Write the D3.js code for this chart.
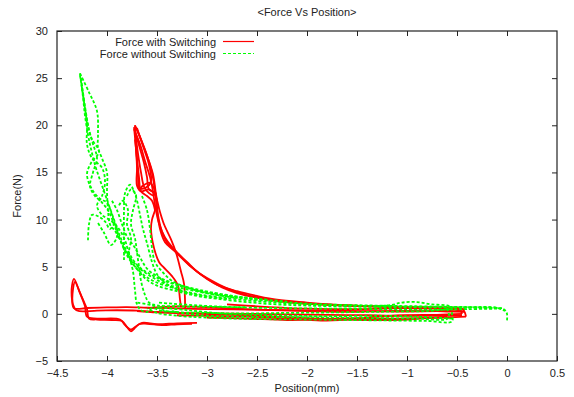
<!DOCTYPE html>
<html>
<head>
<meta charset="utf-8">
<script src="https://cdn.jsdelivr.net/npm/d3@7"></script>
<style>
body { margin: 0; background: #fff; }
text { font-family: "Liberation Sans", Arial, sans-serif; fill: #222; }
</style>
</head>
<body>
<svg id="graph"></svg>
<script>
// tick values
var xTicks = [-4.5, -4, -3.5, -3, -2.5, -2, -1.5, -1, -0.5, 0, 0.5];
var yTicks = [-5, 0, 5, 10, 15, 20, 25, 30];

// Force with Switching (red), traces
var redSpikeA = [[-3.72,20.0],[-3.66,18.5],[-3.60,16.8],[-3.55,15.0],[-3.52,13.0],[-3.50,11.0],[-3.47,9.0],[-3.42,7.6],[-3.33,6.7],[-3.25,5.9],[-3.15,4.9],[-3.0,3.7],[-2.85,2.8],[-2.7,2.2],[-2.5,1.7],[-2.3,1.35],[-2.0,1.05],[-1.7,0.9],[-1.4,0.8],[-1.0,0.72],[-0.7,0.66],[-0.5,0.6],[-0.44,0.45],[-0.42,0.1],[-0.41,-0.3]];
var redSpikeB = [[-3.73,19.6],[-3.67,18.0],[-3.62,16.2],[-3.57,14.5],[-3.54,13.0],[-3.52,11.5],[-3.48,9.6],[-3.42,8.1],[-3.35,7.1],[-3.28,6.3],[-3.18,5.2],[-3.05,4.1],[-2.9,3.1],[-2.7,2.4],[-2.5,1.9],[-2.3,1.5],[-2.0,1.2],[-1.7,0.95],[-1.4,0.82],[-1.0,0.72],[-0.6,0.62],[-0.47,0.5],[-0.45,0.0]];
var redSpikeC = [[-3.71,19.8],[-3.65,18.2],[-3.59,16.5],[-3.54,14.8],[-3.51,12.6],[-3.49,10.5],[-3.45,8.7],[-3.39,7.4],[-3.30,6.5],[-3.2,5.5],[-3.1,4.5],[-2.95,3.5],[-2.8,2.7],[-2.6,2.0],[-2.4,1.6],[-2.1,1.2],[-1.8,1.0],[-1.5,0.85],[-1.2,0.75],[-0.9,0.7],[-0.6,0.65],[-0.45,0.55],[-0.43,0.2]];
var redLeafA = [[-3.72,19.5],[-3.69,17.0],[-3.66,15.0],[-3.63,13.5],[-3.58,12.8],[-3.53,12.5]];
var redLeafB = [[-3.71,19.0],[-3.67,17.5],[-3.63,16.0],[-3.60,14.5],[-3.58,13.2],[-3.52,12.9]];
var redLeafC = [[-3.72,18.5],[-3.70,16.5],[-3.68,14.5],[-3.66,13.0],[-3.60,12.5],[-3.55,12.0],[-3.52,11.0]];
var redLeafD = [[-3.70,19.7],[-3.64,17.8],[-3.58,15.8],[-3.56,14.0],[-3.61,13.4],[-3.68,13.2]];
var redSpikeEdge = [[-3.72,20.0],[-3.71,18.0],[-3.70,16.0],[-3.69,14.5],[-3.68,13.2],[-3.64,13.6],[-3.57,13.9],[-3.53,13.3],[-3.50,12.0],[-3.52,11.0],[-3.55,10.0],[-3.56,9.0],[-3.53,7.0],[-3.48,5.5],[-3.44,5.0],[-3.35,4.0],[-3.29,3.0],[-3.27,1.5],[-3.26,0.7]];
var redSpikeEdge2 = [[-3.73,19.8],[-3.71,17.5],[-3.70,15.5],[-3.70,13.6],[-3.66,13.0],[-3.58,13.2],[-3.52,12.6],[-3.47,10.8],[-3.43,9.5],[-3.40,8.8],[-3.36,7.9],[-3.31,6.5],[-3.26,4.5],[-3.23,3.2],[-3.22,1.5],[-3.22,0.6]];
var redLeftA = [[-3.15,-1.05],[-3.3,-1.1],[-3.45,-1.2],[-3.6,-1.05],[-3.68,-1.1],[-3.73,-1.6],[-3.76,-1.85],[-3.8,-1.4],[-3.85,-0.75],[-3.95,-0.65],[-4.1,-0.6],[-4.18,-0.5],[-4.2,0.5],[-4.24,1.5],[-4.28,2.5],[-4.33,3.7],[-4.35,3.0],[-4.35,1.5],[-4.33,0.6],[-4.2,0.62],[-4.0,0.68],[-3.8,0.72],[-3.6,0.65],[-3.4,0.6],[-3.2,0.55],[-3.0,0.5],[-2.6,0.45],[-2.2,0.4],[-1.8,0.35],[-1.4,0.3],[-1.0,0.25],[-0.7,0.3],[-0.5,0.4],[-0.45,0.2]];
var redLeftB = [[-3.1,-0.95],[-3.3,-1.0],[-3.5,-1.1],[-3.65,-0.95],[-3.72,-1.4],[-3.76,-1.65],[-3.82,-1.2],[-3.87,-0.6],[-4.1,-0.5],[-4.2,-0.3],[-4.22,0.8],[-4.27,2.2],[-4.32,3.4],[-4.34,2.6],[-4.34,1.0],[-4.3,0.35],[-4.1,0.35],[-3.9,0.38],[-3.7,0.35],[-3.5,0.2],[-3.3,0.1],[-3.0,0.05],[-2.6,0.0],[-2.2,-0.05],[-1.8,-0.1],[-1.4,-0.15],[-1.0,-0.2],[-0.6,-0.2],[-0.45,-0.15]];
var redBottomA = [[-0.41,-0.3],[-0.6,-0.4],[-0.9,-0.45],[-1.2,-0.5],[-1.5,-0.45],[-1.8,-0.5],[-2.0,-0.45],[-2.2,-0.35],[-2.3,-0.3],[-2.6,-0.15],[-2.9,-0.05],[-3.2,0.05],[-3.5,0.15],[-3.7,0.3]];
var redBottomB = [[-0.45,0.0],[-0.7,-0.1],[-1.0,-0.15],[-1.3,-0.3],[-1.6,-0.6],[-1.9,-0.7],[-2.1,-0.55],[-2.3,-0.45],[-2.6,-0.3],[-3.0,-0.2],[-3.3,-0.15]];
var redBottomC = [[-0.43,0.2],[-0.6,0.25],[-0.9,0.35],[-1.2,0.3],[-1.6,0.2],[-2.0,0.3],[-2.5,0.45],[-3.0,0.7],[-3.3,0.8],[-3.6,0.6]];
var redBottomD = [[-0.42,0.5],[-0.7,0.55],[-1.0,0.6],[-1.5,0.5],[-2.0,0.55],[-2.5,0.8],[-2.8,1.0]];
var redBottomE = [[-0.6,-0.3],[-1.0,-0.6],[-1.4,-0.65],[-1.8,-0.55],[-2.2,-0.65],[-2.6,-0.5],[-3.0,-0.4]];

// Force without Switching (green)
var greenSpikeA = [[-4.27,25.5],[-4.24,23.0],[-4.22,21.0],[-4.19,19.0],[-4.16,17.5],[-4.12,15.8],[-4.08,14.5],[-4.03,13.0],[-3.98,11.5],[-3.93,10.0],[-3.88,8.5],[-3.82,7.0],[-3.75,5.5],[-3.68,4.5],[-3.6,3.6],[-3.5,3.0],[-3.3,2.4],[-3.1,1.9],[-2.9,1.6],[-2.6,1.25],[-2.3,1.0],[-2.0,0.88],[-1.6,0.78],[-1.2,0.72],[-0.8,0.7],[-0.4,0.66],[-0.1,0.62],[-0.02,0.4],[0.0,0.0],[0.0,-0.7]];
var greenSpikeB = [[-4.26,25.0],[-4.22,22.0],[-4.18,19.5],[-4.14,18.0],[-4.1,16.5],[-4.14,15.0],[-4.17,13.5],[-4.12,12.5],[-4.05,11.8],[-3.98,10.8],[-3.92,9.2],[-3.86,7.6],[-3.8,6.2],[-3.72,5.0],[-3.63,4.1],[-3.52,3.4],[-3.35,2.8],[-3.15,2.2],[-2.9,1.8],[-2.6,1.45],[-2.3,1.2],[-2.0,1.0],[-1.6,0.88],[-1.2,0.8],[-0.8,0.75],[-0.45,0.7],[-0.1,0.65],[-0.02,0.3]];
var greenSpikeC = [[-4.25,24.0],[-4.2,20.5],[-4.15,18.5],[-4.08,17.2],[-4.16,16.0],[-4.2,14.8],[-4.15,13.2],[-4.07,12.2],[-4.0,11.8],[-3.95,10.5],[-3.9,8.8],[-3.84,7.2],[-3.76,5.8],[-3.66,4.7],[-3.55,3.9],[-3.42,3.2],[-3.2,2.6],[-2.95,2.1],[-2.7,1.7],[-2.4,1.4],[-2.1,1.15],[-1.8,1.0],[-1.4,0.9],[-1.0,0.82],[-0.6,0.75],[-0.3,0.7],[-0.05,0.6]];
var greenSpikeD = [[-4.27,25.3],[-4.23,22.5],[-4.2,20.0],[-4.2,18.0],[-4.15,16.5],[-4.05,15.5],[-4.02,14.0],[-4.05,12.5],[-4.1,11.5],[-4.05,10.5],[-3.95,9.8],[-3.88,9.0],[-3.82,7.8],[-3.78,6.5],[-3.7,5.2],[-3.6,4.4],[-3.45,3.6],[-3.25,2.9],[-3.0,2.3],[-2.7,1.8],[-2.4,1.5]];
var greenDashOuter = [[-4.27,25.5],[-4.18,23.5],[-4.1,21.5],[-4.09,19.0],[-4.09,17.6],[-4.05,16.5],[-4.0,15.0],[-4.0,13.0],[-3.99,11.0],[-3.97,9.5],[-3.92,8.8],[-3.88,8.0]];
var greenLoopLeft = [[-4.19,7.8],[-4.18,9.5],[-4.15,10.5],[-4.08,10.3],[-4.02,9.8],[-3.97,9.0],[-3.92,9.6],[-3.9,8.2],[-3.96,7.3],[-4.03,8.6],[-4.1,9.8]];
var greenMidA = [[-3.95,12.0],[-3.9,11.0],[-3.85,9.5],[-3.8,8.2],[-3.72,7.0],[-3.66,5.8],[-3.6,4.8],[-3.5,4.0],[-3.35,3.3],[-3.1,2.6],[-2.8,2.0],[-2.5,1.6],[-2.2,1.3]];
var greenMidB = [[-3.65,12.5],[-3.6,11.0],[-3.57,9.0],[-3.55,7.0],[-3.52,5.5],[-3.45,4.5],[-3.35,3.5],[-3.2,2.8],[-3.0,2.2],[-2.7,1.7]];
var greenSpike2A = [[-3.83,5.7],[-3.83,8.0],[-3.83,11.0],[-3.82,12.8],[-3.77,13.7],[-3.73,13.0],[-3.7,12.0],[-3.67,10.5],[-3.64,9.0],[-3.6,7.5],[-3.55,5.5],[-3.5,4.2],[-3.42,3.3],[-3.3,2.6],[-3.1,2.0],[-2.8,1.6]];
var greenSpike2B = [[-3.8,12.5],[-3.76,13.2],[-3.71,12.6],[-3.74,11.0],[-3.76,9.5],[-3.72,8.0],[-3.7,6.5],[-3.68,5.0],[-3.66,3.5],[-3.62,2.0],[-3.58,1.2],[-3.5,0.9],[-3.3,0.8],[-3.0,0.75],[-2.6,0.7]];
var greenSpike2C = [[-3.88,11.5],[-3.84,12.0],[-3.79,11.0],[-3.8,9.5],[-3.76,8.0],[-3.78,6.5],[-3.74,4.5],[-3.72,2.5],[-3.7,1.0],[-3.66,0.4],[-3.6,0.2],[-3.55,0.6],[-3.45,0.3],[-3.3,0.2]];
var greenBottomA = [[-0.55,0.7],[-0.55,0.0],[-0.55,-0.8],[-0.8,-0.75],[-1.2,-0.7],[-1.6,-0.65],[-2.0,-0.6],[-2.5,-0.55],[-3.0,-0.4],[-3.3,-0.2],[-3.5,0.1],[-3.6,0.6]];
var greenBottomB = [[-0.6,0.6],[-0.58,-0.2],[-0.6,-0.55],[-0.9,-0.5],[-1.3,-0.45],[-1.7,-0.4],[-2.1,-0.35],[-2.6,-0.3],[-3.0,-0.2],[-3.2,0.0],[-3.35,0.3]];
var greenBottomC = [[-0.58,0.5],[-0.8,0.3],[-1.1,0.25],[-1.4,0.2],[-1.8,0.15],[-2.2,0.1],[-2.6,0.05],[-3.0,0.1],[-3.4,0.3],[-3.55,0.9],[-3.7,1.2]];
var greenBottomD = [[-0.55,-0.5],[-0.9,-0.3],[-1.3,-0.2],[-1.8,-0.25],[-2.3,-0.15],[-2.8,0.0],[-3.2,0.4],[-3.5,0.7]];
var greenBottomE = [[-0.1,0.55],[-0.4,0.5],[-0.8,0.45],[-1.2,0.5],[-1.7,0.55],[-2.2,0.6],[-2.7,0.7],[-3.1,0.9],[-3.5,1.2]];
var greenBump = [[-1.3,0.8],[-1.15,0.95],[-1.05,1.2],[-0.9,1.25],[-0.75,1.0],[-0.6,0.9],[-0.55,0.7]];

var series = [
  { name: "Force with Switching", color: "#ff0000", dash: null,
    traces: [redSpikeA, redSpikeB, redSpikeC, redLeafA, redLeafB, redLeafC, redLeafD, redSpikeEdge, redSpikeEdge2,
             redLeftA, redLeftB, redBottomA, redBottomB, redBottomC, redBottomD, redBottomE] },
  { name: "Force without Switching", color: "#00ff00", dash: "3,2",
    traces: [greenSpikeA, greenSpikeB, greenSpikeC, greenSpikeD, greenDashOuter, greenLoopLeft, greenMidA, greenMidB,
             greenSpike2A, greenSpike2B, greenSpike2C, greenBottomA, greenBottomB, greenBottomC, greenBottomD, greenBottomE, greenBump] }
];

var width = 574, height = 397;
var margin = { left: 57, right: 17, top: 31, bottom: 36 };
var svg = d3.select("#graph").attr("width", width).attr("height", height);

var x = d3.scaleLinear().domain([-4.5, 0.5]).range([margin.left, width - margin.right]);
var y = d3.scaleLinear().domain([-5, 30]).range([height - margin.bottom, margin.top]);

var line = d3.line()
    .x(d => x(d[0]))
    .y(d => y(d[1]))
    .curve(d3.curveCatmullRom.alpha(0.5));

var plot = svg.append("g");
series.forEach(function (s) {
    plot.selectAll(null)
        .data(s.traces)
        .enter()
        .append("path")
        .attr("d", line)
        .attr("fill", "none")
        .attr("stroke", s.color)
        .attr("stroke-width", 1.8)
        .attr("stroke-dasharray", s.dash)
        .attr("stroke-linejoin", "round");
});

// axes, gnuplot style: ticks on all four sides pointing inward
function styleAxis(g) {
    g.select(".domain").remove();
    g.selectAll(".tick line").attr("stroke", "#222");
    g.selectAll(".tick text").attr("font-size", 11).attr("fill", "#222");
}
svg.append("g")
    .attr("transform", "translate(0," + y(-5) + ")")
    .call(d3.axisBottom(x).tickValues(xTicks).tickFormat(d3.format("")).tickSizeInner(-5).tickPadding(8))
    .call(styleAxis);
svg.append("g")
    .attr("transform", "translate(0," + y(30) + ")")
    .call(d3.axisTop(x).tickValues(xTicks.slice(1, -1)).tickFormat("").tickSizeInner(-5))
    .call(styleAxis);
svg.append("g")
    .attr("transform", "translate(" + x(-4.5) + ",0)")
    .call(d3.axisLeft(y).tickValues(yTicks).tickFormat(d3.format("")).tickSizeInner(-5).tickPadding(9))
    .call(styleAxis);
svg.append("g")
    .attr("transform", "translate(" + x(0.5) + ",0)")
    .call(d3.axisRight(y).tickValues(yTicks.slice(1, -1)).tickFormat("").tickSizeInner(-5))
    .call(styleAxis);

svg.append("rect")
    .attr("x", x(-4.5)).attr("y", y(30))
    .attr("width", x(0.5) - x(-4.5)).attr("height", y(-5) - y(30))
    .attr("fill", "none").attr("stroke", "#222").attr("stroke-width", 1.2);

// title and axis labels
svg.append("text").attr("x", 307).attr("y", 16).attr("text-anchor", "middle")
    .attr("font-size", 11).text("<Force Vs Position>");
svg.append("text").attr("x", 307).attr("y", 392).attr("text-anchor", "middle")
    .attr("font-size", 11).text("Position(mm)");
svg.append("text").attr("transform", "translate(21,196) rotate(-90)").attr("text-anchor", "middle")
    .attr("font-size", 11).text("Force(N)");

// legend
var legend = svg.append("g");
series.forEach(function (s, i) {
    var ly = 41.5 + i * 12;
    legend.append("text").attr("x", 216).attr("y", ly + 4).attr("text-anchor", "end")
        .attr("font-size", 11).text(s.name);
    legend.append("line").attr("x1", 223).attr("x2", 254).attr("y1", ly).attr("y2", ly)
        .attr("stroke", s.color).attr("stroke-width", 1.2).attr("stroke-dasharray", s.dash);
});
</script>
</body>
</html>
